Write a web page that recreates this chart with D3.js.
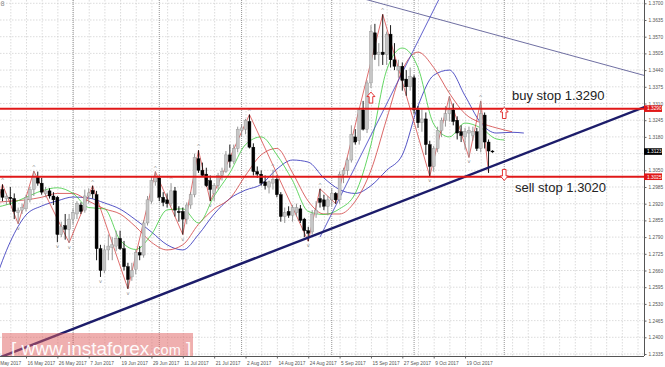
<!DOCTYPE html>
<html><head><meta charset="utf-8">
<script src="https://cdn.jsdelivr.net/npm/d3@7"></script>
<style>body{margin:0;background:#fff;}svg{display:block;}</style>
</head><body>
<svg id="c" width="665" height="367"></svg>
<script>
// ---------- DATA (GBP/USD daily) ----------
const dates = ["2017-05-04","2017-05-05","2017-05-08","2017-05-09","2017-05-10","2017-05-11","2017-05-12","2017-05-15","2017-05-16","2017-05-17","2017-05-18","2017-05-19","2017-05-22","2017-05-23","2017-05-24","2017-05-25","2017-05-26","2017-05-29","2017-05-30","2017-05-31","2017-06-01","2017-06-02","2017-06-05","2017-06-06","2017-06-07","2017-06-08","2017-06-09","2017-06-12","2017-06-13","2017-06-14","2017-06-15","2017-06-16","2017-06-19","2017-06-20","2017-06-21","2017-06-22","2017-06-23","2017-06-26","2017-06-27","2017-06-28","2017-06-29","2017-06-30","2017-07-03","2017-07-04","2017-07-05","2017-07-06","2017-07-07","2017-07-10","2017-07-11","2017-07-12","2017-07-13","2017-07-14","2017-07-17","2017-07-18","2017-07-19","2017-07-20","2017-07-21","2017-07-24","2017-07-25","2017-07-26","2017-07-27","2017-07-28","2017-07-31","2017-08-01","2017-08-02","2017-08-03","2017-08-04","2017-08-07","2017-08-08","2017-08-09","2017-08-10","2017-08-11","2017-08-14","2017-08-15","2017-08-16","2017-08-17","2017-08-18","2017-08-21","2017-08-22","2017-08-23","2017-08-24","2017-08-25","2017-08-28","2017-08-29","2017-08-30","2017-08-31","2017-09-01","2017-09-04","2017-09-05","2017-09-06","2017-09-07","2017-09-08","2017-09-11","2017-09-12","2017-09-13","2017-09-14","2017-09-15","2017-09-18","2017-09-19","2017-09-20","2017-09-21","2017-09-22","2017-09-25","2017-09-26","2017-09-27","2017-09-28","2017-09-29","2017-10-02","2017-10-03","2017-10-04","2017-10-05","2017-10-06","2017-10-09","2017-10-10","2017-10-11","2017-10-12","2017-10-13","2017-10-16","2017-10-17","2017-10-18","2017-10-19","2017-10-20","2017-10-23","2017-10-24","2017-10-25","2017-10-26","2017-10-27","2017-10-30"];
const open  = [1.2880,1.2935,1.2975,1.2940,1.2945,1.2940,1.2885,1.2895,1.2900,1.2935,1.2975,1.3025,1.3000,1.2960,1.2970,1.2950,1.2945,1.2800,1.2835,1.2820,1.2860,1.2880,1.2915,1.2895,1.2950,1.2972,1.2955,1.2745,1.2660,1.2740,1.2750,1.2755,1.2785,1.2745,1.2675,1.2635,1.2665,1.2730,1.2720,1.2845,1.2930,1.3005,1.3020,1.2945,1.2935,1.2920,1.2970,1.2890,1.2890,1.2860,1.2915,1.2955,1.3095,1.3050,1.3035,1.3010,1.2960,1.2990,1.3030,1.3045,1.3110,1.3085,1.3135,1.3205,1.3210,1.3240,1.3140,1.3045,1.3035,1.3005,1.2985,1.3000,1.3015,1.2955,1.2870,1.2890,1.2875,1.2885,1.2900,1.2860,1.2815,1.2810,1.2880,1.2940,1.2935,1.2910,1.2935,1.2960,1.2935,1.3035,1.3050,1.3090,1.3180,1.3165,1.3285,1.3210,1.3390,1.3585,1.3500,1.3510,1.3500,1.3580,1.3480,1.3440,1.3455,1.3405,1.3375,1.3410,1.3285,1.3235,1.3250,1.3150,1.3065,1.3135,1.3205,1.3245,1.3270,1.3285,1.3245,1.3200,1.3180,1.3195,1.3185,1.3200,1.3135,1.3265,1.3160,1.3125];
const high  = [1.2950,1.2990,1.2995,1.2960,1.2985,1.2960,1.2905,1.2920,1.2955,1.2985,1.3047,1.3045,1.3020,1.2985,1.2980,1.2965,1.2950,1.2850,1.2880,1.2880,1.2900,1.2930,1.2925,1.2975,1.2980,1.2990,1.2970,1.2760,1.2760,1.2800,1.2790,1.2815,1.2815,1.2775,1.2690,1.2690,1.2740,1.2755,1.2855,1.2950,1.3025,1.3045,1.3030,1.2965,1.2960,1.3000,1.2985,1.2910,1.2905,1.2925,1.2965,1.3115,1.3128,1.3080,1.3060,1.3030,1.3000,1.3040,1.3060,1.3125,1.3150,1.3150,1.3220,1.3230,1.3250,1.3267,1.3155,1.3065,1.3050,1.3030,1.3010,1.3052,1.3030,1.2965,1.2905,1.2910,1.2915,1.2920,1.2915,1.2865,1.2830,1.2895,1.2930,1.2978,1.2955,1.2950,1.2980,1.2965,1.3045,1.3060,1.3100,1.3225,1.3210,1.3290,1.3320,1.3400,1.3615,1.3620,1.3545,1.3657,1.3590,1.3615,1.3545,1.3480,1.3470,1.3440,1.3450,1.3420,1.3300,1.3290,1.3275,1.3165,1.3145,1.3220,1.3255,1.3300,1.3338,1.3310,1.3260,1.3225,1.3215,1.3220,1.3220,1.3215,1.3320,1.3275,1.3170,1.3128];
const low   = [1.2870,1.2915,1.2930,1.2915,1.2915,1.2860,1.2842,1.2880,1.2890,1.2925,1.2950,1.2990,1.2955,1.2945,1.2940,1.2915,1.2770,1.2790,1.2780,1.2768,1.2840,1.2860,1.2880,1.2885,1.2920,1.2940,1.2700,1.2635,1.2650,1.2700,1.2700,1.2735,1.2740,1.2660,1.2589,1.2620,1.2645,1.2700,1.2710,1.2835,1.2920,1.2990,1.2930,1.2910,1.2905,1.2910,1.2870,1.2850,1.2800,1.2840,1.2900,1.2945,1.3040,1.3025,1.2985,1.2930,1.2930,1.2975,1.3010,1.3040,1.3060,1.3075,1.3120,1.3180,1.3190,1.3135,1.3030,1.3020,1.2990,1.2975,1.2960,1.2975,1.2945,1.2850,1.2845,1.2865,1.2850,1.2870,1.2845,1.2790,1.2774,1.2800,1.2865,1.2905,1.2895,1.2875,1.2910,1.2920,1.2920,1.3000,1.3030,1.3080,1.3150,1.3150,1.3205,1.3195,1.3370,1.3480,1.3455,1.3460,1.3460,1.3450,1.3440,1.3410,1.3360,1.3340,1.3360,1.3270,1.3215,1.3200,1.3110,1.3027,1.3045,1.3120,1.3180,1.3220,1.3240,1.3225,1.3170,1.3160,1.3130,1.3100,1.3165,1.3125,1.3120,1.3135,1.3040,1.3118];
const close = [1.2935,1.2975,1.2945,1.2948,1.2940,1.2890,1.2895,1.2905,1.2945,1.2975,1.3025,1.3000,1.2965,1.2970,1.2950,1.2935,1.2800,1.2830,1.2820,1.2860,1.2885,1.2920,1.2890,1.2950,1.2962,1.2958,1.2745,1.2660,1.2740,1.2755,1.2760,1.2785,1.2745,1.2675,1.2625,1.2660,1.2730,1.2720,1.2845,1.2935,1.3010,1.3025,1.2945,1.2925,1.2920,1.2970,1.2895,1.2885,1.2860,1.2915,1.2955,1.3100,1.3050,1.3030,1.2990,1.2975,1.2990,1.3030,1.3045,1.3110,1.3085,1.3135,1.3210,1.3215,1.3245,1.3140,1.3045,1.3035,1.3000,1.2990,1.3005,1.3015,1.2955,1.2870,1.2885,1.2875,1.2905,1.2905,1.2855,1.2815,1.2805,1.2880,1.2895,1.2925,1.2910,1.2935,1.2960,1.2935,1.3035,1.3050,1.3090,1.3190,1.3160,1.3285,1.3210,1.3390,1.3590,1.3500,1.3510,1.3500,1.3580,1.3480,1.3455,1.3455,1.3400,1.3375,1.3415,1.3285,1.3235,1.3250,1.3150,1.3065,1.3135,1.3205,1.3245,1.3270,1.3285,1.3240,1.3195,1.3185,1.3200,1.3205,1.3200,1.3135,1.3270,1.3160,1.3125,1.3123];

// Alligator-style lines (bar index, price)
const jawIdx = [0,4,8,12,16,20,24,28,32,36,40,44,48,52,56,60,64,68,72,76,80,84,88,92,96,100,104,108,112,116,120,124,128,132,135];
const jawVal = [1.2615,1.2772,1.2876,1.2911,1.2931,1.2946,1.2942,1.2923,1.2899,1.2857,1.2810,1.2760,1.2740,1.2800,1.2880,1.2940,1.2973,1.2995,1.3055,1.3090,1.3082,1.3020,1.2975,1.2960,1.2990,1.3050,1.3110,1.3300,1.3420,1.3440,1.3340,1.3235,1.3195,1.3198,1.3195];
const teethIdx = [0,4,8,12,16,20,24,28,32,36,40,44,48,52,56,60,64,68,72,76,80,84,88,92,96,100,104,108,112,116,120,124,128,132];
const teethVal = [1.2925,1.2930,1.2935,1.2945,1.2960,1.2960,1.2930,1.2900,1.2880,1.2830,1.2770,1.2740,1.2760,1.2840,1.2900,1.2940,1.3030,1.3110,1.3135,1.3040,1.2930,1.2880,1.2880,1.2930,1.3050,1.3250,1.3440,1.3510,1.3450,1.3350,1.3270,1.3235,1.3215,1.3200];
const lipsIdx = [0,4,8,12,16,20,24,28,32,36,40,44,48,52,56,60,64,68,72,76,80,84,88,92,96,100,104,108,112,116,120,124,128,130];
const lipsVal = [1.2905,1.2920,1.2945,1.2970,1.2982,1.2960,1.2905,1.2900,1.2779,1.2742,1.2800,1.2896,1.2900,1.2845,1.2950,1.3040,1.3150,1.3180,1.3110,1.3010,1.2890,1.2878,1.2900,1.2960,1.3150,1.3440,1.3526,1.3450,1.3230,1.3180,1.3234,1.3215,1.3172,1.3168];

// ZigZag vertices
const zzIdx = [0,2,6,10,19,25,34,41,48,52,55,65,80,83,87,99,111,116,121,124,126];
const zzVal = [1.2870,1.2995,1.2842,1.3047,1.2768,1.2990,1.2589,1.3045,1.2800,1.3128,1.2930,1.3267,1.2774,1.2978,1.2920,1.3657,1.3027,1.3338,1.3100,1.3320,1.3040];

// Fractals
const fractalUp = [2,10,25,41,45,52,65,71,83,99,116,124];
const fractalDown = [6,16,19,27,34,48,55,80,111,121];

// Trend lines: [index, price] anchors
const supportLine = [[80,1.2788],[160,1.3262]];
const upperLine   = [[100,1.3693],[160,1.3443]];
const steepLine   = [[83,1.2790],[113,1.3705]];

// Levels
const levels = [1.3290, 1.3025];
const levelText = ["buy stop 1.3290", "sell stop 1.3020"];
const lastPrice = 1.3123;
// Arrow marks: [index, price, direction]
const arrows = [[96,1.3333,"up"],[130,1.3273,"up"],[130,1.3032,"down"]];
// Monthly separators (first bar of month)
const separatorIdx = [20,42,63,86,107,130];

const priceTicks = [1.3700,1.3635,1.3570,1.3505,1.3440,1.3375,1.3310,1.3245,1.3180,1.3115,1.3050,1.2985,1.2920,1.2855,1.2790,1.2725,1.2660,1.2595,1.2530,1.2465,1.2400,1.2335];
const dateTickIdx = [0,8,16,24,32,40,48,56,64,72,80,88,96,104,112,120];

// ---------- LAYOUT ----------
const PR = 644, PB = 356;
const svg = d3.select("#c");
const x = d3.scaleLinear().domain([8,120]).range([26,465.04]);
const y = d3.scaleLinear().domain([1.2335,1.3700]).range([354,3.3]);
const parse = d3.timeParse("%Y-%m-%d"), fmt = d3.timeFormat("%-d %b %Y");

svg.append("rect").attr("width",665).attr("height",367).attr("fill","#fff");
svg.append("defs").append("clipPath").attr("id","pc").append("rect").attr("x",0).attr("y",0).attr("width",PR).attr("height",PB);
const g = svg.append("g").attr("clip-path","url(#pc)");

// grid
const gridIdx = d3.range(0,168,4);
g.selectAll(".vg").data(gridIdx).enter().append("line")
  .attr("x1",d=>x(d)+0.5).attr("x2",d=>x(d)+0.5).attr("y1",0).attr("y2",PB)
  .attr("stroke","#c4c4c4").attr("stroke-width",0.6).attr("stroke-dasharray","1.5,1.5");
g.selectAll(".hg").data(priceTicks).enter().append("line")
  .attr("x1",0).attr("x2",PR).attr("y1",d=>y(d)).attr("y2",d=>y(d))
  .attr("stroke","#c4c4c4").attr("stroke-width",0.6).attr("stroke-dasharray","1.5,1.5");
g.selectAll(".sep").data(separatorIdx).enter().append("line")
  .attr("x1",d=>x(d)).attr("x2",d=>x(d)).attr("y1",0).attr("y2",PB)
  .attr("stroke","#777").attr("stroke-width",0.8).attr("stroke-dasharray","1,1");

// watermark box
svg.append("rect").attr("x",2).attr("y",333).attr("width",191).attr("height",24)
  .attr("fill","#e06060").attr("opacity",0.5);

// lines
const curve = d3.line().x(d=>x(d[0])).y(d=>y(d[1])).curve(d3.curveMonotoneX);
const lin = d3.line().x(d=>x(d[0])).y(d=>y(d[1]));
function ext(a,b,i0,i1){const s=(b[1]-a[1])/(b[0]-a[0]);return [[i0,a[1]+(i0-a[0])*s],[i1,a[1]+(i1-a[0])*s]];}

g.append("path").attr("d",curve(jawIdx.map((d,i)=>[d,jawVal[i]]))).attr("fill","none").attr("stroke","#2a2ab8").attr("stroke-width",0.8);
g.append("path").attr("d",curve(teethIdx.map((d,i)=>[d,teethVal[i]]))).attr("fill","none").attr("stroke","#d04040").attr("stroke-width",0.8);
g.append("path").attr("d",curve(lipsIdx.map((d,i)=>[d,lipsVal[i]]))).attr("fill","none").attr("stroke","#3ccc3c").attr("stroke-width",0.8);
g.append("path").attr("d",lin(zzIdx.map((d,i)=>[d,zzVal[i]]))).attr("fill","none").attr("stroke","#d23030").attr("stroke-width",0.7);

// trend lines
g.append("path").attr("d",lin(ext(upperLine[0],upperLine[1],60,170))).attr("stroke","#4a4a8a").attr("stroke-width",0.8).attr("fill","none");
g.append("path").attr("d",lin([steepLine[0],ext(steepLine[0],steepLine[1],83,125)[1]])).attr("stroke","#3a3ac0").attr("stroke-width",0.8).attr("fill","none");

// candles
const idx = d3.range(open.length);
g.selectAll(".wick").data(idx).enter().append("line")
  .attr("x1",i=>x(i)).attr("x2",i=>x(i)).attr("y1",i=>y(high[i])).attr("y2",i=>y(low[i]))
  .attr("stroke",i=>close[i]>=open[i]?"#8a8a8a":"#000").attr("stroke-width",0.9);
g.selectAll(".body").data(idx).enter().append("rect")
  .attr("x",i=>x(i)-1.5).attr("width",3)
  .attr("y",i=>y(Math.max(open[i],close[i])))
  .attr("height",i=>Math.max(0.9,Math.abs(y(open[i])-y(close[i]))))
  .attr("fill",i=>close[i]>=open[i]?"#c6c6c6":"#000")
  .attr("stroke",i=>close[i]>=open[i]?"#909090":"#000").attr("stroke-width",0.4);

// fractals
g.selectAll(".fu").data(fractalUp).enter().append("text")
  .attr("x",i=>x(i)).attr("y",i=>y(high[i])-2).attr("text-anchor","middle")
  .attr("font-size",5).attr("fill","#888").attr("font-family","DejaVu Sans").text("^");
g.selectAll(".fd").data(fractalDown).enter().append("text")
  .attr("x",i=>x(i)).attr("y",i=>y(low[i])+6).attr("text-anchor","middle")
  .attr("font-size",5).attr("fill","#888").attr("font-family","DejaVu Sans").text("v");

// support thick line
g.append("path").attr("d",lin(ext(supportLine[0],supportLine[1],-10,170))).attr("stroke","#1c1c6a").attr("stroke-width",2.4).attr("fill","none");

// horizontal levels
g.selectAll(".lvl").data(levels).enter().append("line")
  .attr("x1",0).attr("x2",PR).attr("y1",d=>y(d)).attr("y2",d=>y(d))
  .attr("stroke","#e01818").attr("stroke-width",2);

// arrows
const upP = "M0,-5.5L4,-1L1.8,-1L1.8,5.5L-1.8,5.5L-1.8,-1L-4,-1Z";
g.selectAll(".arr").data(arrows).enter().append("path")
  .attr("d",upP).attr("transform",d=>`translate(${x(d[0])},${y(d[1])})`+(d[2]==="down"?" scale(1,-1)":""))
  .attr("fill","#fff").attr("stroke","#e02020").attr("stroke-width",0.9);

// level labels
svg.selectAll(".lt").data(levels).enter().append("text")
  .attr("x",(d,i)=>i===0?512:515).attr("y",(d,i)=>y(d)+(i===0?-9:15))
  .attr("font-family","Liberation Sans, Arial").attr("font-size",13).attr("fill","#222")
  .text((d,i)=>levelText[i]);

// watermark text
const wt = svg.append("text").attr("x",11).attr("y",355).attr("fill","#fff").attr("font-family","Liberation Sans, Arial").attr("opacity",0.95);
wt.append("tspan").attr("font-size",19).text("[ ");
wt.append("tspan").attr("font-size",19).text("www.instaforex");
wt.append("tspan").attr("font-size",14.5).text(".com");
wt.append("tspan").attr("font-size",19).text(" ]");

// frame
svg.append("line").attr("x1",PR+0.5).attr("x2",PR+0.5).attr("y1",0).attr("y2",PB).attr("stroke","#555").attr("stroke-width",1);
svg.append("line").attr("x1",0).attr("x2",PR).attr("y1",PB+0.5).attr("y2",PB+0.5).attr("stroke","#555").attr("stroke-width",1);

// right axis (tick labels hidden under a price box are left out)
const boxes = [[levels[0],"#e01818"],[levels[1],"#e01818"],[lastPrice,"#000"]];
const ya = svg.append("g").attr("transform",`translate(${PR+0.5},0)`)
  .call(d3.axisRight(y).tickValues(priceTicks).tickFormat(d3.format(".4f")).tickSize(2).tickPadding(2));
ya.select(".domain").remove();
ya.selectAll("text").attr("font-size",4.8).attr("fill","#555").attr("font-family","Liberation Sans, Arial")
  .filter(d=>boxes.some(b=>Math.abs(y(b[0])-y(d))<4)).remove();
ya.selectAll("line").attr("stroke","#666");

// price boxes
const bx = svg.selectAll(".bx").data(boxes).enter().append("g").attr("transform",d=>`translate(${PR},${y(d[0])})`);
bx.append("rect").attr("x",0).attr("y",-3.3).attr("width",18).attr("height",6.6).attr("fill",d=>d[1]);
bx.append("text").attr("x",3).attr("y",1.8).attr("font-size",4.8).attr("fill","#fff").attr("font-family","Liberation Sans, Arial").text(d=>d3.format(".4f")(d[0]));

// bottom axis
const xa = svg.append("g").attr("transform",`translate(0,${PB+0.5})`)
  .call(d3.axisBottom(x).tickValues(dateTickIdx).tickFormat(i=>fmt(parse(dates[i]))).tickSize(2).tickPadding(3));
xa.select(".domain").remove();
xa.selectAll("text").attr("font-size",4.8).attr("fill","#555").attr("font-family","Liberation Sans, Arial").attr("text-anchor","start").attr("dx",1);
xa.selectAll("line").attr("stroke","#666");

// corner glyph
svg.append("text").attr("x",0.5).attr("y",6).attr("font-size",6.5).attr("fill","#888").attr("font-family","DejaVu Sans").text("8");
</script>
</body></html>
